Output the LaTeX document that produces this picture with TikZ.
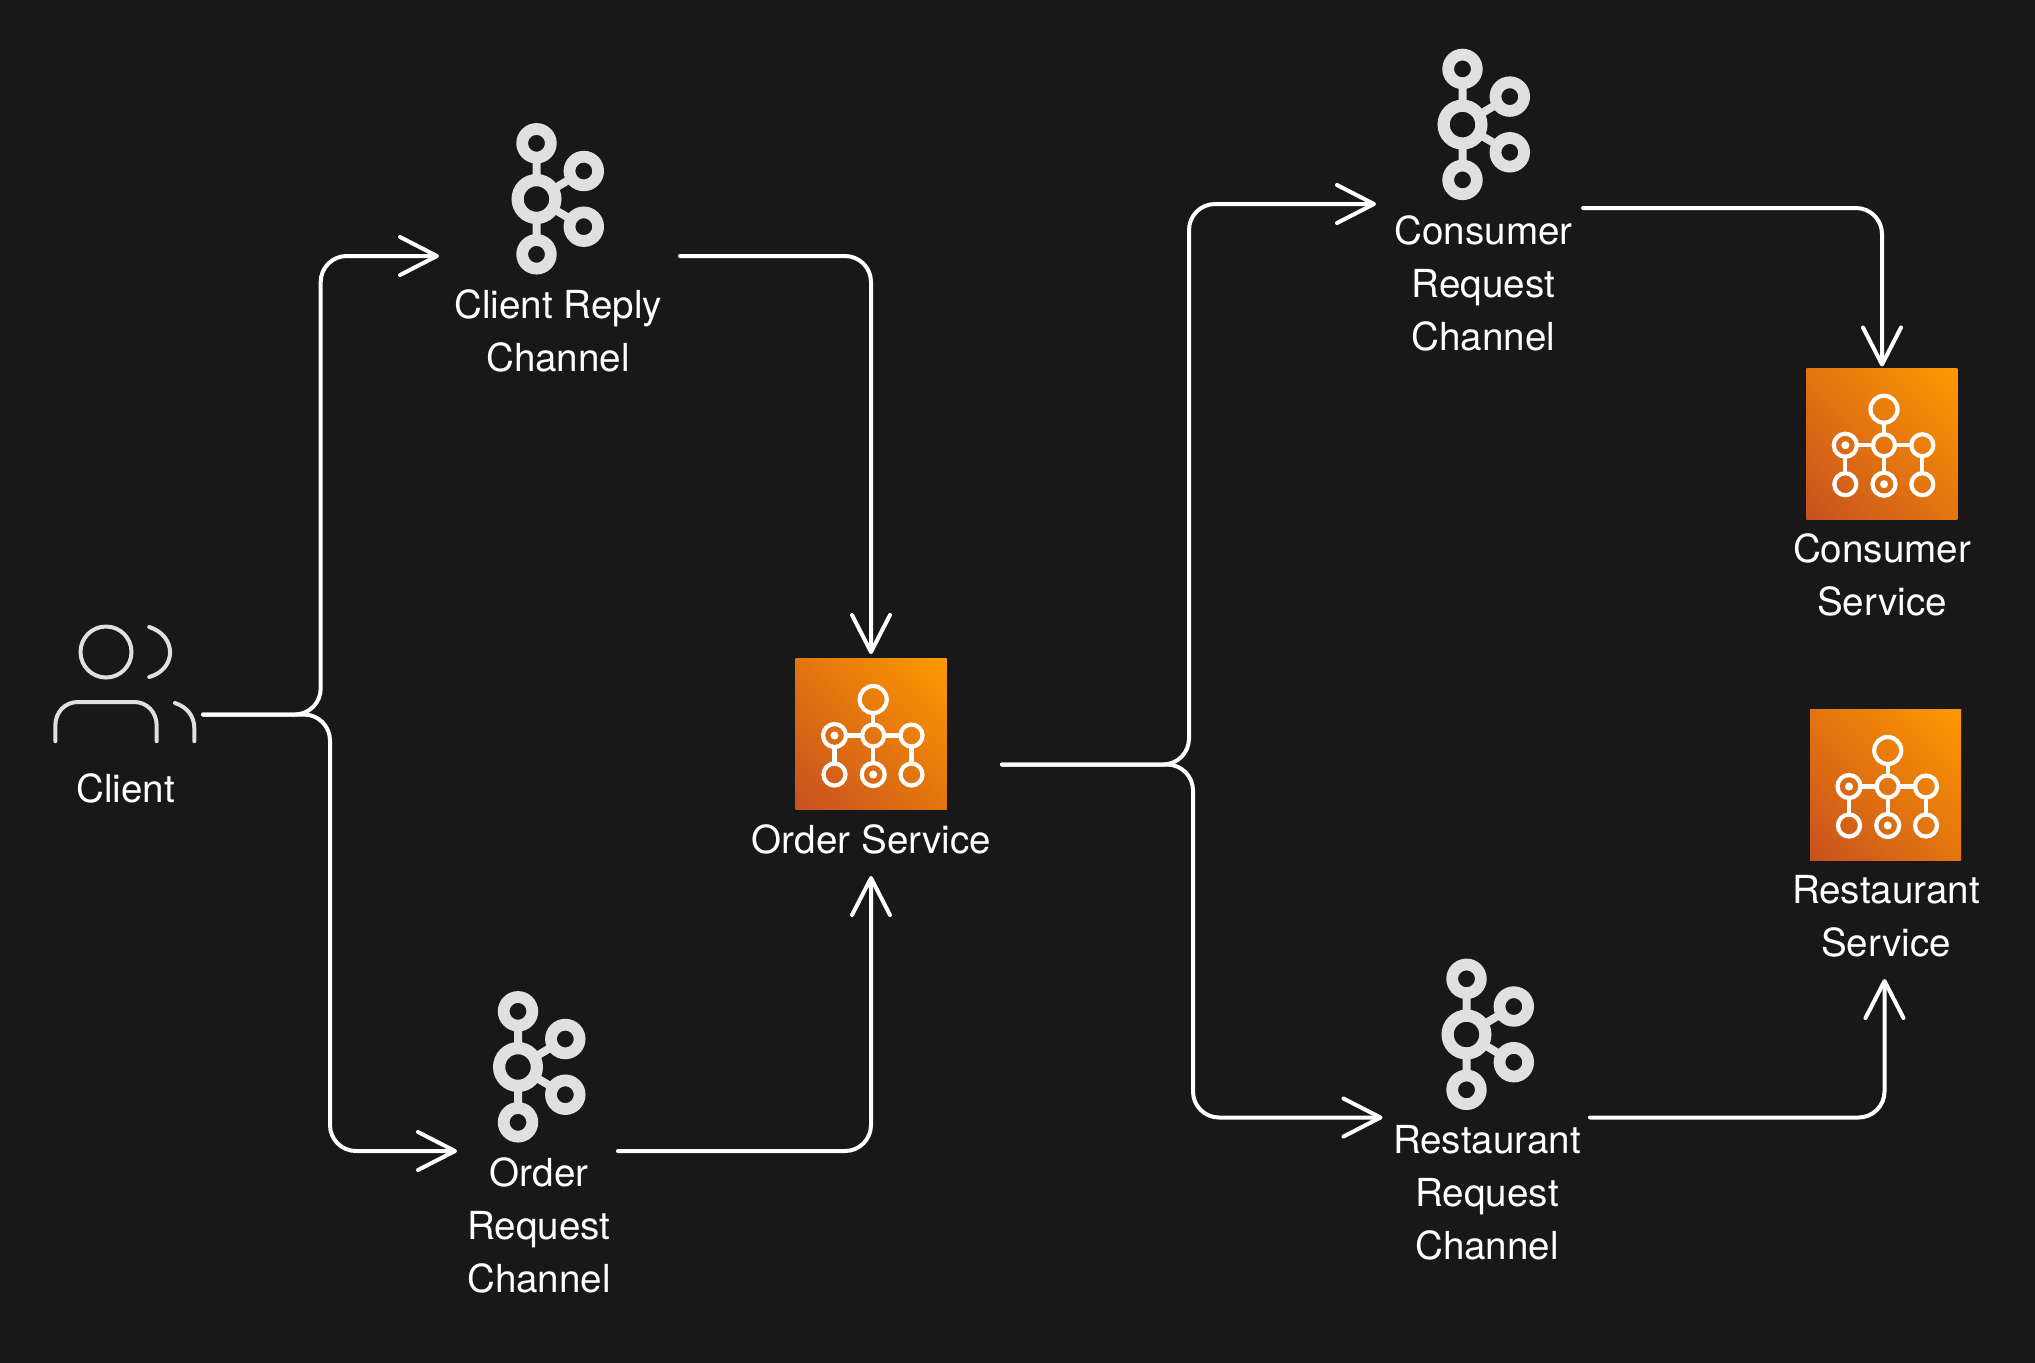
\documentclass[tikz,border=0pt]{standalone}
\usepackage{fontspec}
\setmainfont{TeX Gyre Heros}
\usetikzlibrary{arrows.meta}
\definecolor{bg}{HTML}{181818}
\definecolor{ink}{HTML}{FFFFFF}
\definecolor{iconink}{HTML}{E0E0E0}
\definecolor{awsA}{HTML}{C7511F}
\definecolor{awsB}{HTML}{FF9900}
\pgfdeclareverticalshading{awsgrad}{100bp}{color(0bp)=(awsA); color(14.64bp)=(awsA); color(85.36bp)=(awsB); color(100bp)=(awsB)}
\tikzset{
  x=0.5pt,y=-0.5pt,
  conn/.style={draw=ink,line width=2pt,rounded corners=13pt,line cap=round,
    -{Straight Barb[length=18.5pt,width=19pt,line width=2pt,round]}},
  lbl/.style={text=ink,font=\fontsize{19.3}{26.5}\selectfont,align=center,inner sep=0pt},
  kafka/.pic={
    \draw[iconink,line width=4pt] (0,-55.7)--(0,55.3) (0,0)--(47.3,-28) (0,0)--(47.3,27.7);
    \draw[iconink,line width=6.1pt,fill=bg] (0,0) circle[radius=18.9];
    \foreach \p in {(0,-55.7),(0,55.3),(47.3,-28),(47.3,27.7)}
      \draw[iconink,line width=5.9pt,fill=bg] \p circle[radius=14.3];
  },
  awsicon/.pic={
    \shade[shading=awsgrad,shading angle=-45] (0,0) rectangle (151,151);
    \begin{scope}[white,line width=2.1pt]
      \draw (77.7,54.5)--(77.7,66) (77.7,88)--(77.7,104.5)
            (50.5,77)--(66.7,77) (88.7,77)--(105,77)
            (39,88.5)--(39,105) (116,88)--(116,105);
      \draw (77.7,41) circle[radius=13.5];
      \draw (77.7,77) circle[radius=11];
      \draw (39,77) circle[radius=11.5];
      \draw (116,77) circle[radius=11];
      \draw (39,116) circle[radius=11];
      \draw (77.7,116) circle[radius=11.5];
      \draw (116,116) circle[radius=11];
      \fill (39,77) circle[radius=4];
      \fill (77.7,116) circle[radius=4];
    \end{scope}
  },
}
\begin{document}
\begin{tikzpicture}
\useasboundingbox (0,0) rectangle (2035,1362);
\fill[bg] (-10,-10) rectangle (2045,1372);

% client icon
\begin{scope}[iconink,line width=2pt,line cap=round]
  \draw (106,652) circle[radius=25.5];
  \draw (149.3,627) .. controls (177,636) and (177,669) .. (149.3,677);
  \draw (55.3,741.2) -- (55.3,726) .. controls (55.3,712) and (65,702) .. (78,702)
        -- (134,702) .. controls (147,702) and (156.7,712) .. (156.7,726) -- (156.7,741.2);
  \draw (175,703) .. controls (187,707) and (194.3,716) .. (194.3,728) -- (194.3,741.2);
\end{scope}

% kafka icons
\path (536.5,199) pic {kafka} (518,1067) pic {kafka} (1462.5,124.6) pic {kafka} (1466.5,1034.5) pic {kafka};
% service icons
\path (795.5,658.5) pic {awsicon} (1806.3,368.2) pic {awsicon} (1810,709.5) pic {awsicon};

% labels
\node[lbl] (client) at (125.5,788.5) {Client};
\node[lbl] (reply) at (558,330.5) {Client Reply\\Channel};
\node[lbl] (order) at (539,1225) {Order\\Request\\Channel};
\node[lbl] (svc) at (871.5,839.5) {Order Service};
\node[lbl] (consreq) at (1483.5,283) {Consumer\\Request\\Channel};
\node[lbl] (restreq) at (1487,1193) {Restaurant\\Request\\Channel};
\node[lbl] (conssvc) at (1882,575) {Consumer\\Service};
\node[lbl] (restsvc) at (1886,916.5) {Restaurant\\Service};

% connector ends
\coordinate (clientout) at (203,714.5);
\coordinate (replyin) at (439,256);
\coordinate (orderin) at (457,1151);
\coordinate (replyout) at (680,256);
\coordinate (svctop) at (871,654);
\coordinate (orderout) at (618,1151);
\coordinate (svcbot) at (871,876);
\coordinate (svcout) at (1002,764.5);
\coordinate (consreqin) at (1376,204);
\coordinate (restreqin) at (1382.5,1117.5);
\coordinate (consreqout) at (1583,208);
\coordinate (conssvcin) at (1882,366.5);
\coordinate (restreqout) at (1590,1117.5);
\coordinate (restsvcin) at (1884.5,979);

\draw[conn] (clientout) -- (320.7,714.5) |- (replyin);
\draw[conn] (clientout) -- (330,714.5) |- (orderin);
\draw[conn] (replyout) -| (svctop);
\draw[conn] (orderout) -| (svcbot);
\draw[conn] (svcout) -- (1189,764.5) |- (consreqin);
\draw[conn] (svcout) -- (1193,764.5) |- (restreqin);
\draw[conn] (consreqout) -| (conssvcin);
\draw[conn] (restreqout) -| (restsvcin);
\end{tikzpicture}
\end{document}
